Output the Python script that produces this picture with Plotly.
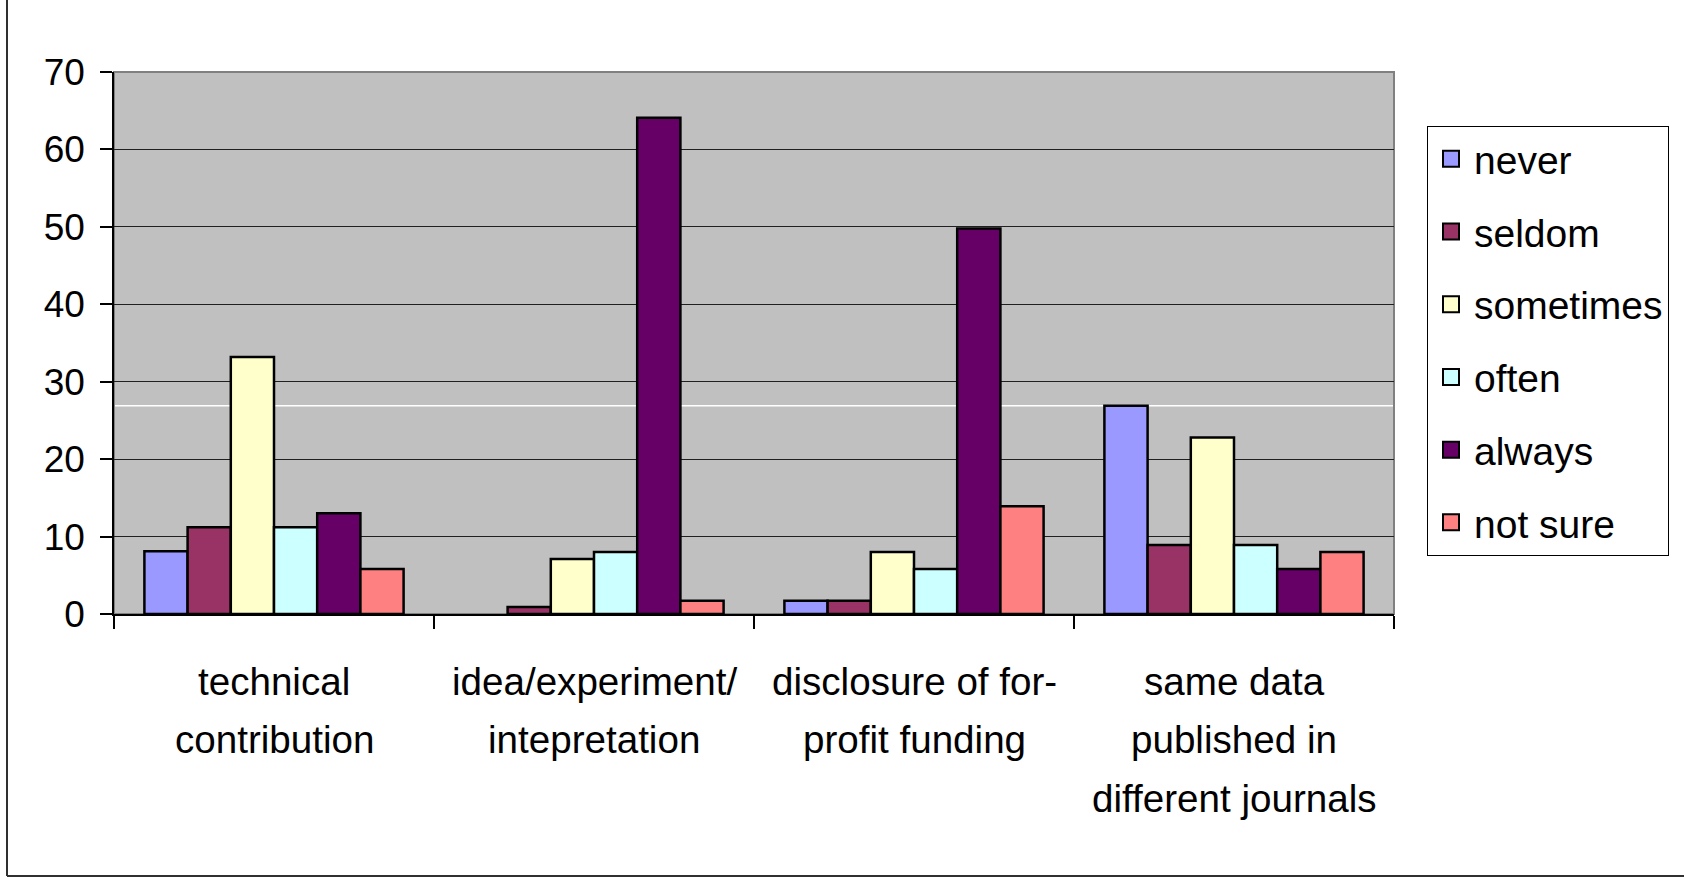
import plotly.graph_objects as go

categories = ["technical contribution", "idea/experiment/ intepretation",
              "disclosure of for-profit funding", "same data published in different journals"]
category_lines = [["technical", "contribution"],
                  ["idea/experiment/", "intepretation"],
                  ["disclosure of for-", "profit funding"],
                  ["same data", "published in", "different journals"]]
series_names = ["never", "seldom", "sometimes", "often", "always", "not sure"]
never = [8.1, 0, 1.7, 26.9]
seldom = [11.2, 0.9, 1.7, 8.9]
sometimes = [33.2, 7.1, 8.0, 22.8]
often = [11.2, 8.0, 5.8, 8.9]
always = [13.0, 64.1, 49.8, 5.8]
not_sure = [5.8, 1.7, 13.9, 8.0]
series_values = [never, seldom, sometimes, often, always, not_sure]
colors = ["#9999FF", "#993366", "#FFFFCC", "#CCFFFF", "#660066", "#FF8080"]
y_ticks = [0, 10, 20, 30, 40, 50, 60, 70]
artifact_line_value = 26.9

W, H = 1684, 877
L, R, T, B = 114, 290, 72, 263
pw, ph = W - L - R, H - T - B

fig = go.Figure()
for name, vals, col in zip(series_names, series_values, colors):
    fig.add_trace(go.Bar(
        x=categories, y=vals, name=name, legendgroup=name, showlegend=False,
        marker=dict(color=col,
                    line=dict(color="black", width=[2.5 if v > 0 else 0 for v in vals])),
    ))
# legend entries (bigger square swatches)
for name, col in zip(series_names, colors):
    fig.add_trace(go.Scatter(
        x=[None], y=[None], mode="markers", name=name, legendgroup=name,
        marker=dict(symbol="square", size=18, color=col,
                    line=dict(color="black", width=2)),
    ))

font = "Liberation Sans, Arial, sans-serif"

annotations = []
for cat, lines in zip(categories, category_lines):
    for j, line in enumerate(lines):
        annotations.append(dict(
            x=cat, xref="x", y=0, yref="paper", text=line, showarrow=False,
            xanchor="center", yanchor="middle", yshift=-(67 + 58.8 * j),
            font=dict(family=font, size=38.6, color="black"),
        ))

def px_x(p):
    return (p - L) / pw

def px_y(p):
    return (H - B - p) / ph

shapes = [
    dict(type="line", xref="paper", yref="y", x0=0, x1=1,
         y0=artifact_line_value, y1=artifact_line_value,
         line=dict(color="white", width=1.5), layer="below"),
    dict(type="rect", xref="paper", yref="paper", x0=0, x1=1, y0=0, y1=1,
         line=dict(color="#808080", width=2), layer="below"),
    dict(type="line", xref="paper", yref="paper", x0=px_x(7), x1=px_x(7),
         y0=px_y(876), y1=px_y(-2), line=dict(color="#303030", width=2)),
    dict(type="line", xref="paper", yref="paper", x0=px_x(7), x1=px_x(1690),
         y0=px_y(876), y1=px_y(876), line=dict(color="#303030", width=2)),
]

fig.update_layout(
    width=W, height=H,
    margin=dict(l=L, r=R, t=T, b=B),
    paper_bgcolor="white", plot_bgcolor="#C0C0C0",
    barmode="group", bargap=0.19, bargroupgap=0,
    font=dict(family=font, size=38, color="black"),
    legend=dict(
        x=px_x(1427), y=px_y(126), xanchor="left", yanchor="top",
        bgcolor="white", bordercolor="black", borderwidth=1,
        font=dict(family=font, size=39, color="black"),
        tracegroupgap=19, itemwidth=36, itemsizing="trace",
    ),
    annotations=annotations,
    shapes=shapes,
    xaxis=dict(
        showticklabels=False, ticks="outside", tickson="boundaries",
        ticklen=13, tickcolor="black", tickwidth=1.5,
        showline=True, linecolor="black", linewidth=1.5,
        showgrid=False,
    ),
    yaxis=dict(
        range=[0, 70], tickvals=y_ticks, ticks="outside", ticklen=12,
        tickcolor="black", tickwidth=1.5,
        showline=True, linecolor="black", linewidth=1.5,
        showgrid=True, gridcolor="#202020", gridwidth=1,
        zeroline=False, tickfont=dict(family=font, size=37, color="black"),
        ticklabelstandoff=8,
    ),
)

fig.write_html("out.html")
